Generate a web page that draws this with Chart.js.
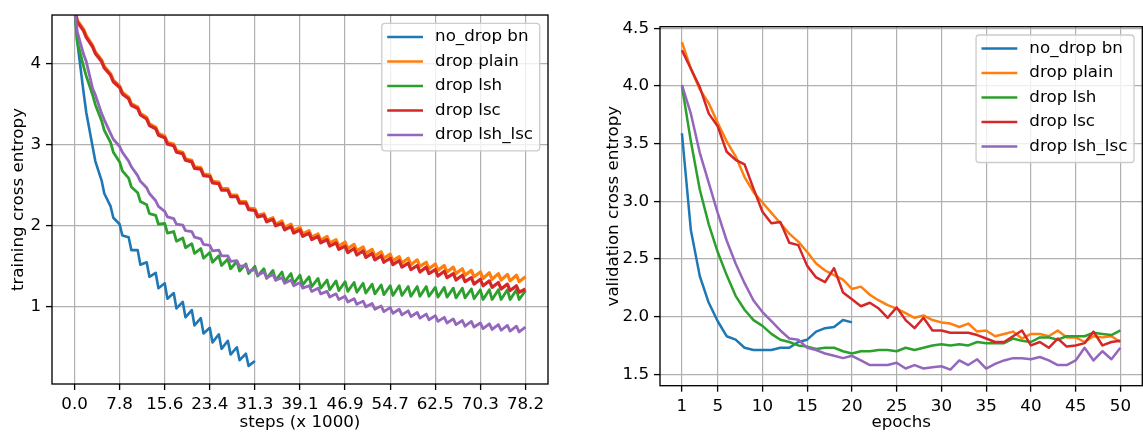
<!DOCTYPE html>
<html>
<head>
<meta charset="utf-8">
<script src="https://cdn.jsdelivr.net/npm/chart.js@4.4.1/dist/chart.umd.min.js"></script>
<style>
  body { margin: 0; background: #fff; }
  #left { position: absolute; left: 0; top: 0; }
  #right { position: absolute; left: 560px; top: 0; }
</style>
</head>
<body>
<canvas id="left" width="560" height="432"></canvas>
<canvas id="right" width="583" height="432"></canvas>
<script>
// ---- data ----
const seriesNames = ['no_drop bn', 'drop plain', 'drop lsh', 'drop lsc', 'drop lsh_lsc'];
const seriesColors = ['#1f77b4', '#ff7f0e', '#2ca02c', '#d62728', '#9467bd'];

// training curves: value at the end of each epoch (before the drop) and just after the drop
const totalSteps = 78.17;          // x 1000 steps, 50 epochs
const stepsPerEpoch = totalSteps / 50;
const trainTickLabels = ['0.0', '7.8', '15.6', '23.4', '31.3', '39.1', '46.9', '54.7', '62.5', '70.3', '78.2'];
const trainYTicks = [1, 2, 3, 4];

const trainNoDropHigh = [4.70, 3.65, 2.98, 2.56, 2.24, 2.02, 1.86, 1.70, 1.55, 1.42, 1.29, 1.17, 1.06, 0.96, 0.86, 0.74, 0.66, 0.58, 0.50, 0.42, 0.33];
const trainNoDropLow = [4.28, 3.40, 2.80, 2.40, 2.10, 1.88, 1.70, 1.52, 1.37, 1.23, 1.10, 0.98, 0.87, 0.77, 0.67, 0.56, 0.48, 0.41, 0.34, 0.27];

const trainPlainHigh = [4.70, 4.43, 4.23, 4.05, 3.88, 3.73, 3.59, 3.47, 3.34, 3.22, 3.11, 3.01, 2.91, 2.81, 2.72, 2.63, 2.54, 2.46, 2.38, 2.30,
  2.21, 2.15, 2.10, 2.06, 2.02, 1.98, 1.94, 1.90, 1.87, 1.83, 1.80, 1.77, 1.74, 1.71, 1.68, 1.65, 1.62, 1.60, 1.58, 1.55,
  1.53, 1.51, 1.49, 1.47, 1.45, 1.43, 1.42, 1.41, 1.40, 1.39, 1.37];
const trainPlainLow = [4.54, 4.35, 4.15, 3.97, 3.80, 3.65, 3.51, 3.39, 3.26, 3.14, 3.03, 2.93, 2.83, 2.73, 2.64, 2.55, 2.46, 2.38, 2.30, 2.22,
  2.13, 2.07, 2.02, 1.98, 1.94, 1.90, 1.86, 1.82, 1.79, 1.75, 1.72, 1.69, 1.66, 1.63, 1.60, 1.57, 1.54, 1.52, 1.50, 1.47,
  1.45, 1.43, 1.41, 1.39, 1.37, 1.35, 1.34, 1.33, 1.32, 1.31];

const trainLshHigh = [4.70, 3.97, 3.62, 3.30, 3.03, 2.79, 2.59, 2.41, 2.26, 2.13, 2.03, 1.93, 1.85, 1.78, 1.72, 1.67, 1.63, 1.59, 1.56, 1.53,
  1.50, 1.47, 1.45, 1.43, 1.41, 1.39, 1.37, 1.35, 1.33, 1.32, 1.31, 1.30, 1.29, 1.28, 1.27, 1.26, 1.26, 1.25, 1.25, 1.25,
  1.24, 1.24, 1.23, 1.23, 1.22, 1.21, 1.21, 1.21, 1.21, 1.21, 1.20];
const trainLshLow = [4.28, 3.85, 3.50, 3.18, 2.91, 2.68, 2.48, 2.30, 2.15, 2.02, 1.91, 1.81, 1.73, 1.66, 1.60, 1.55, 1.51, 1.47, 1.44, 1.41,
  1.38, 1.35, 1.33, 1.31, 1.29, 1.27, 1.25, 1.23, 1.21, 1.20, 1.19, 1.18, 1.17, 1.16, 1.15, 1.14, 1.14, 1.13, 1.13, 1.13,
  1.12, 1.12, 1.11, 1.11, 1.10, 1.09, 1.09, 1.09, 1.09, 1.09];

const trainLscHigh = [4.70, 4.41, 4.21, 4.03, 3.86, 3.71, 3.57, 3.45, 3.32, 3.20, 3.09, 2.99, 2.89, 2.79, 2.70, 2.61, 2.52, 2.44,
  2.36, 2.28, 2.19, 2.13, 2.08, 2.03, 1.99, 1.95, 1.91, 1.87, 1.83, 1.79, 1.75,
  1.72, 1.69, 1.66, 1.63, 1.60, 1.57, 1.54, 1.51, 1.49, 1.46, 1.44, 1.41, 1.39, 1.36, 1.34, 1.32, 1.30, 1.28, 1.26, 1.22];
const trainLscLow = [4.52, 4.33, 4.13, 3.95, 3.78, 3.63, 3.49, 3.37, 3.24, 3.12, 3.01, 2.91, 2.81, 2.71, 2.62, 2.53, 2.44, 2.36,
  2.28, 2.20, 2.11, 2.05, 2.00, 1.95, 1.91, 1.87, 1.83, 1.79, 1.75, 1.71, 1.67,
  1.64, 1.61, 1.58, 1.55, 1.52, 1.49, 1.46, 1.43, 1.41, 1.38, 1.36, 1.33, 1.31, 1.28, 1.26, 1.24, 1.22, 1.20, 1.18];

const trainLshLscHigh = [4.70, 4.12, 3.70, 3.39, 3.14, 2.98, 2.80, 2.62, 2.47, 2.31, 2.18, 2.09, 2.01, 1.93, 1.84, 1.76, 1.70, 1.63, 1.57, 1.51,
  1.46, 1.43, 1.40, 1.36, 1.33, 1.30, 1.26, 1.23, 1.19, 1.16, 1.13, 1.10, 1.07, 1.04, 1.01, 0.99, 0.97, 0.95, 0.93, 0.91,
  0.89, 0.87, 0.85, 0.83, 0.82, 0.80, 0.79, 0.78, 0.77, 0.76, 0.75];
const trainLshLscLow = [4.40, 4.03, 3.62, 3.31, 3.07, 2.91, 2.73, 2.55, 2.40, 2.24, 2.11, 2.02, 1.94, 1.86, 1.77, 1.69, 1.63, 1.56, 1.50, 1.44,
  1.39, 1.36, 1.33, 1.29, 1.26, 1.23, 1.19, 1.16, 1.12, 1.09, 1.06, 1.03, 1.00, 0.97, 0.94, 0.92, 0.90, 0.88, 0.86, 0.84,
  0.82, 0.80, 0.78, 0.76, 0.75, 0.73, 0.72, 0.71, 0.70, 0.69];

// validation curves, one value per epoch starting at epoch 1
const valEpochTicks = [1, 5, 10, 15, 20, 25, 30, 35, 40, 45, 50];
const valYTicks = [1.5, 2.0, 2.5, 3.0, 3.5, 4.0, 4.5];
const valNoDrop = [3.59, 2.75, 2.35, 2.12, 1.96, 1.83, 1.80, 1.73, 1.71, 1.71, 1.71, 1.73, 1.73, 1.78, 1.80, 1.87, 1.90, 1.91, 1.97, 1.95];
const valPlain = [4.38, 4.15, 3.97, 3.85, 3.68, 3.52, 3.39, 3.21, 3.08, 2.99, 2.90, 2.81, 2.72, 2.65, 2.56, 2.46, 2.40, 2.36, 2.32, 2.24,
  2.26, 2.19, 2.14, 2.10, 2.07, 2.03, 1.99, 2.01, 1.97, 1.95, 1.94, 1.91, 1.94, 1.87, 1.88, 1.83, 1.85, 1.87, 1.81, 1.85,
  1.85, 1.83, 1.88, 1.82, 1.82, 1.78, 1.83, 1.82, 1.83, 1.78];
const valLsh = [4.00, 3.52, 3.10, 2.80, 2.56, 2.36, 2.18, 2.06, 1.97, 1.92, 1.85, 1.80, 1.78, 1.75, 1.74, 1.72, 1.73, 1.73, 1.70, 1.68,
  1.70, 1.70, 1.71, 1.71, 1.70, 1.73, 1.71, 1.73, 1.75, 1.76, 1.75, 1.76, 1.75, 1.78, 1.77, 1.77, 1.77, 1.81, 1.79, 1.78,
  1.82, 1.82, 1.80, 1.83, 1.83, 1.83, 1.86, 1.85, 1.84, 1.88];
const valLsc = [4.31, 4.15, 3.99, 3.76, 3.65, 3.43, 3.36, 3.32, 3.11, 2.91, 2.81, 2.82, 2.64, 2.62, 2.44, 2.34, 2.30, 2.42, 2.21, 2.15,
  2.09, 2.12, 2.07, 1.99, 2.08, 1.97, 1.90, 1.99, 1.88, 1.88, 1.86, 1.86, 1.86, 1.84, 1.81, 1.78, 1.78, 1.83, 1.88, 1.75,
  1.78, 1.73, 1.81, 1.74, 1.75, 1.77, 1.87, 1.75, 1.78, 1.79];
const valLshLsc = [4.01, 3.76, 3.42, 3.16, 2.90, 2.66, 2.46, 2.29, 2.14, 2.04, 1.96, 1.88, 1.81, 1.80, 1.73, 1.71, 1.68, 1.66, 1.64, 1.66,
  1.62, 1.58, 1.58, 1.58, 1.60, 1.55, 1.58, 1.55, 1.56, 1.57, 1.54, 1.62, 1.58, 1.63, 1.55, 1.59, 1.62, 1.64, 1.64, 1.63,
  1.65, 1.62, 1.58, 1.58, 1.62, 1.73, 1.62, 1.70, 1.63, 1.73];

// ---- helpers ----
const font = { family: 'DejaVu Sans', size: 16.7 };
const titleFont = { family: 'DejaVu Sans', size: 16.7, lineHeight: 1.0 };
const dropFrac = 0.3; // where inside an epoch the dip sits

// turns the per-epoch high/low values into x/y points
function trainPoints(high, low) {
  const pts = [];
  for (let k = 0; k < low.length; k++) {
    pts.push({ x: k * stepsPerEpoch, y: high[k] });
    pts.push({ x: (k + dropFrac) * stepsPerEpoch, y: low[k] });
  }
  pts.push({ x: low.length * stepsPerEpoch, y: high[low.length] });
  return pts;
}

function valPoints(values) {
  return values.map((v, i) => ({ x: i + 1, y: v }));
}

function makeDatasets(seriesList, widths) {
  return seriesList.map((data, i) => ({
    label: seriesNames[i],
    data: data,
    borderColor: seriesColors[i],
    borderWidth: widths[i],
    pointRadius: 0,
    tension: 0,
    fill: false,
    borderJoinStyle: 'round',
    clip: 0,
    order: seriesNames.length - i  // later series on top, like matplotlib
  }));
}

// black box round the plot area
const framePlugin = {
  id: 'frame',
  afterDatasetsDraw(chart) {
    const { ctx, chartArea: a } = chart;
    ctx.save();
    ctx.strokeStyle = '#000';
    ctx.lineWidth = 1.33;
    ctx.strokeRect(a.left, a.top, a.width, a.height);
    ctx.restore();
  }
};

// legend in the upper right corner inside the plot
const legendPlugin = {
  id: 'boxLegend',
  afterDraw(chart) {
    const { ctx, chartArea } = chart;
    const sets = chart.data.datasets;
    ctx.save();
    ctx.font = font.size + 'px "DejaVu Sans"';
    const textW = Math.max(...sets.map(d => ctx.measureText(d.label).width));
    const pad = 6.7, handle = 33.3, gap = 13.3, rowH = 24.5;
    const w = pad + handle + gap + textW + pad;
    const h = 127.5;
    const left = chartArea.right - 8.3 - w;
    const top = chartArea.top + 8.3;
    ctx.beginPath();
    ctx.roundRect(left, top, w, h, 3.3);
    ctx.fillStyle = 'rgba(255,255,255,0.8)';
    ctx.fill();
    ctx.strokeStyle = '#cccccc';
    ctx.lineWidth = 1.33;
    ctx.stroke();
    sets.forEach((d, i) => {
      const y = top + 13.6 + i * rowH;
      ctx.beginPath();
      ctx.moveTo(left + pad, y);
      ctx.lineTo(left + pad + handle, y);
      ctx.strokeStyle = d.borderColor;
      ctx.lineWidth = 2.5;
      ctx.lineCap = 'square';
      ctx.stroke();
      ctx.fillStyle = '#000';
      ctx.textAlign = 'left';
      ctx.textBaseline = 'middle';
      ctx.fillText(d.label, left + pad + handle + gap, y);
    });
    ctx.restore();
  }
};

function axis(opts) {
  return {
    type: 'linear',
    min: opts.min,
    max: opts.max,
    afterBuildTicks: s => { s.ticks = opts.ticks.map(v => ({ value: v })); },
    afterFit: opts.fit,
    ticks: {
      callback: opts.label,
      font: font,
      color: '#000',
      padding: 5,
      autoSkip: false,
      maxRotation: 0
    },
    grid: { color: '#b0b0b0', lineWidth: 1.2, tickLength: 6, tickColor: '#000', tickWidth: 1.33 },
    border: { display: false },
    title: { display: true, text: opts.title, font: titleFont, color: '#000', padding: opts.titlePad }
  };
}

// ---- left chart: training ----
new Chart(document.getElementById('left'), {
  type: 'line',
  data: {
    datasets: makeDatasets([
      trainPoints(trainNoDropHigh, trainNoDropLow),
      trainPoints(trainPlainHigh, trainPlainLow),
      trainPoints(trainLshHigh, trainLshLow),
      trainPoints(trainLscHigh, trainLscLow),
      trainPoints(trainLshLscHigh, trainLshLscLow)
    ], [2.6, 3.2, 2.8, 3.2, 2.8])
  },
  options: {
    responsive: false,
    animation: false,
    devicePixelRatio: 1,
    layout: { padding: { left: 0, top: 15, right: 12, bottom: 0 } },
    plugins: { legend: { display: false }, tooltip: { enabled: false } },
    scales: {
      x: axis({
        min: -0.05 * totalSteps, max: 1.05 * totalSteps,
        ticks: trainTickLabels.map((t, i) => i * totalSteps / 10),
        label: (v, i) => trainTickLabels[i],
        title: 'steps (x 1000)', titlePad: { top: 0, bottom: 0.5 },
        fit: s => { s.height = 48; }
      }),
      y: axis({
        min: 0.046, max: 4.605,
        ticks: trainYTicks,
        label: v => String(v),
        title: 'training cross entropy', titlePad: { top: 10, bottom: 0 },
        fit: s => { s.width = 52; }
      })
    }
  },
  plugins: [framePlugin, legendPlugin]
});

// ---- right chart: validation ----
new Chart(document.getElementById('right'), {
  type: 'line',
  data: {
    datasets: makeDatasets([
      valPoints(valNoDrop),
      valPoints(valPlain),
      valPoints(valLsh),
      valPoints(valLsc),
      valPoints(valLshLsc)
    ], [2.5, 2.5, 2.5, 2.5, 2.5])
  },
  options: {
    responsive: false,
    animation: false,
    devicePixelRatio: 1,
    layout: { padding: { left: 0, top: 26.7, right: 0.7, bottom: 0 } },
    plugins: { legend: { display: false }, tooltip: { enabled: false } },
    scales: {
      x: axis({
        min: -1.45, max: 52.45,
        ticks: valEpochTicks,
        label: v => String(v),
        title: 'epochs', titlePad: { top: 0, bottom: 0.5 },
        fit: s => { s.height = 46.3; }
      }),
      y: axis({
        min: 1.401, max: 4.514,
        ticks: valYTicks,
        label: v => v.toFixed(1),
        title: 'validation cross entropy', titlePad: { top: 45, bottom: 0 },
        fit: s => { s.width = 100; }
      })
    }
  },
  plugins: [framePlugin, legendPlugin]
});
</script>
</body>
</html>
